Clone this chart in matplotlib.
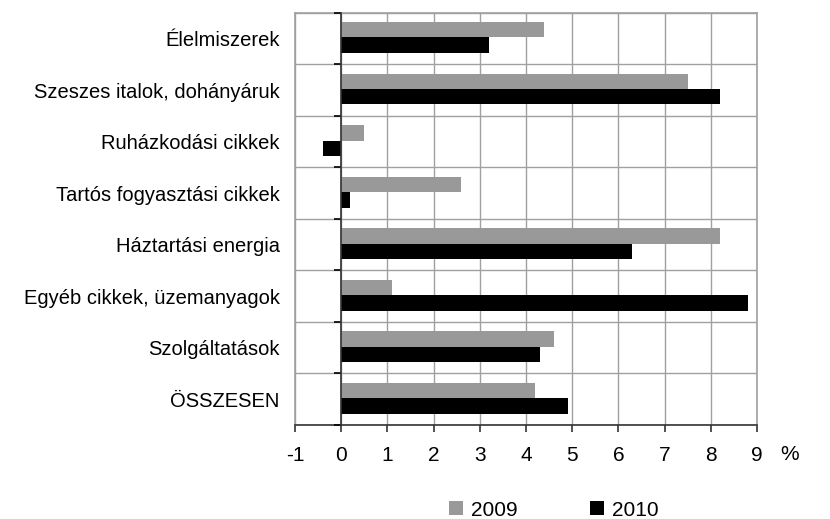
import matplotlib.pyplot as plt
import numpy as np

plt.rcParams['font.family'] = ['Liberation Sans', 'DejaVu Sans']

# categories, top to bottom
categories = ['Élelmiszerek', 'Szeszes italok, dohányáruk', 'Ruházkodási cikkek',
              'Tartós fogyasztási cikkek', 'Háztartási energia',
              'Egyéb cikkek, üzemanyagok', 'Szolgáltatások', 'ÖSSZESEN']
values_2009 = [4.4, 7.5, 0.5, 2.6, 8.2, 1.1, 4.6, 4.2]
values_2010 = [3.2, 8.2, -0.4, 0.2, 6.3, 8.8, 4.3, 4.9]
series_names = ['2009', '2010']
x_ticks = [-1, 0, 1, 2, 3, 4, 5, 6, 7, 8, 9]

grid_col = '#a0a0a0'
fs = 15

fig = plt.figure(figsize=(8.3, 5.19), dpi=100)
ax = fig.add_axes([295/830, 1-425/519, (757-295)/830, (425-12.7)/519])

y = np.arange(len(categories))
h = 0.3
b1 = ax.barh(y - 0.17, values_2009, height=h, color='#999999', label=series_names[0], zorder=3)
b2 = ax.barh(y + 0.13, values_2010, height=h, color='black', label=series_names[1], zorder=3)

ax.set_xlim(-1, 9)
ax.set_ylim(len(categories) - 0.5, -0.5)
ax.set_xticks(x_ticks)
ax.set_xticklabels([str(t) for t in x_ticks], fontsize=fs)
ax.set_yticks(y)
ax.set_yticklabels(categories, fontsize=14.5)
ax.tick_params(axis='y', length=0, pad=11)
ax.tick_params(axis='x', length=5, width=1.2, pad=10, color='#333333')

# grid: vertical at integers, horizontal at row boundaries
ax.set_yticks(np.arange(len(categories) + 1) - 0.5, minor=True)
ax.tick_params(axis='y', which='minor', length=0)
ax.grid(axis='x', which='major', color=grid_col, linewidth=1, zorder=0)
ax.grid(axis='y', which='minor', color=grid_col, linewidth=1, zorder=0)
ax.set_axisbelow(True)

for s in ['left', 'right', 'top']:
    ax.spines[s].set_color(grid_col)
    ax.spines[s].set_linewidth(1.2)
ax.spines['bottom'].set_color('#333333')
ax.spines['bottom'].set_linewidth(1.2)

# zero axis with ticks at category boundaries
sec = ax.secondary_yaxis(0.1)
sec.set_yticks(np.arange(len(categories) + 1) - 0.5)
sec.yaxis.set_tick_params(which='major', direction='out', length=5, width=1.2,
                          color='black', labelleft=False)
sec.spines['left'].set_color('#333333')
sec.spines['left'].set_linewidth(1.2)
sec.set_zorder(4)

fig.text(790/830, 1-455/519, '%', fontsize=fs, ha='center', va='center')

fig.legend(handles=[b1, b2], labels=series_names, loc='center',
           bbox_to_anchor=(554/830, 1-510/519), ncol=2, frameon=False,
           fontsize=15, handlelength=0.65, handleheight=0.65, handletextpad=0.4,
           columnspacing=3.5)

fig.savefig('out.png', dpi=100)
